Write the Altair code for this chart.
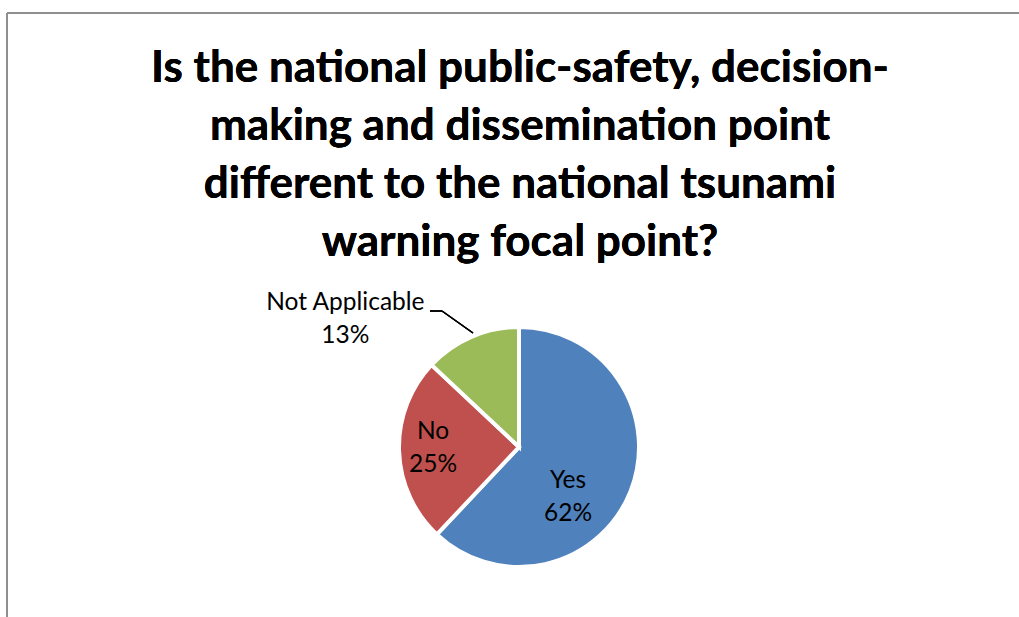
import altair as alt
import pandas as pd

categories = ["Yes", "No", "Not Applicable"]
values = [62, 25, 13]
order = [1, 2, 3]
colors = ["#4F81BD", "#C0504D", "#9BBB59"]
title_lines = [
    "Is the national public-safety, decision-",
    "making and dissemination point",
    "different to the national tsunami",
    "warning focal point?",
]

df = pd.DataFrame({"cat": categories, "value": values, "order": order})

W, H = 1019, 617
CX, CY, R = 519, 447, 120
FONT = "Lato"

base = alt.Chart(df)

theta_scale = alt.Scale(domain=[0, 100])

pie = base.mark_arc(outerRadius=R, stroke="white", strokeWidth=4).encode(
    theta=alt.Theta("value:Q", stack=True, scale=theta_scale),
    color=alt.Color("cat:N", scale=alt.Scale(domain=categories, range=colors), legend=None),
    order=alt.Order("order:Q"),
    x=alt.value(CX),
    y=alt.value(CY),
)

lab_base = base.transform_window(
    cum="sum(value)", sort=[alt.SortField("order")], frame=[None, 0]
).transform_calculate(
    mid="datum.cum - datum.value / 2",
    label="datum.cat + '\\n' + datum.value + '%'",
)


def label_layer(cat, radius, dx, dy):
    return lab_base.transform_filter(alt.datum.cat == cat).mark_text(
        font=FONT, fontSize=24.5, lineBreak="\n", lineHeight=33,
        align="center", baseline="middle", color="black", dx=dx, dy=dy,
    ).encode(
        theta=alt.Theta("mid:Q", stack=None, scale=theta_scale),
        radius=alt.value(radius),
        text="label:N",
        x=alt.value(CX),
        y=alt.value(CY),
    )


lab_yes = label_layer("Yes", 70, -16, 8)
lab_no = label_layer("No", 86, 0, -18)
lab_na = label_layer("Not Applicable", 140, -118, -16)

leader1 = base.mark_rule(color="black", strokeWidth=1.3).encode(
    x=alt.value(430), x2=alt.value(442), y=alt.value(311), y2=alt.value(311)
)
leader2 = base.mark_rule(color="black", strokeWidth=1.3).encode(
    x=alt.value(442), x2=alt.value(473), y=alt.value(311), y2=alt.value(333)
)

title = base.mark_text(
    font=FONT, fontSize=44, fontWeight="bold", lineHeight=58,
    align="center", baseline="alphabetic", color="black",
).encode(
    x=alt.value(520), y=alt.value(82), text=alt.value(title_lines)
)

frame_top = base.mark_rule(color="#8f8f8f", strokeWidth=2).encode(
    x=alt.value(7), x2=alt.value(W), y=alt.value(13), y2=alt.value(13)
)
frame_left = base.mark_rule(color="#8f8f8f", strokeWidth=2).encode(
    x=alt.value(7), x2=alt.value(7), y=alt.value(13), y2=alt.value(H)
)

chart = alt.layer(
    frame_top, frame_left, pie, lab_yes, lab_no, lab_na, leader1, leader2, title
).properties(
    width=W, height=H, padding=0, autosize=alt.AutoSizeParams(type="none"),
    background="white",
).configure_view(stroke=None)

chart.save("out.html", embed_options={"renderer": "svg", "actions": False})
